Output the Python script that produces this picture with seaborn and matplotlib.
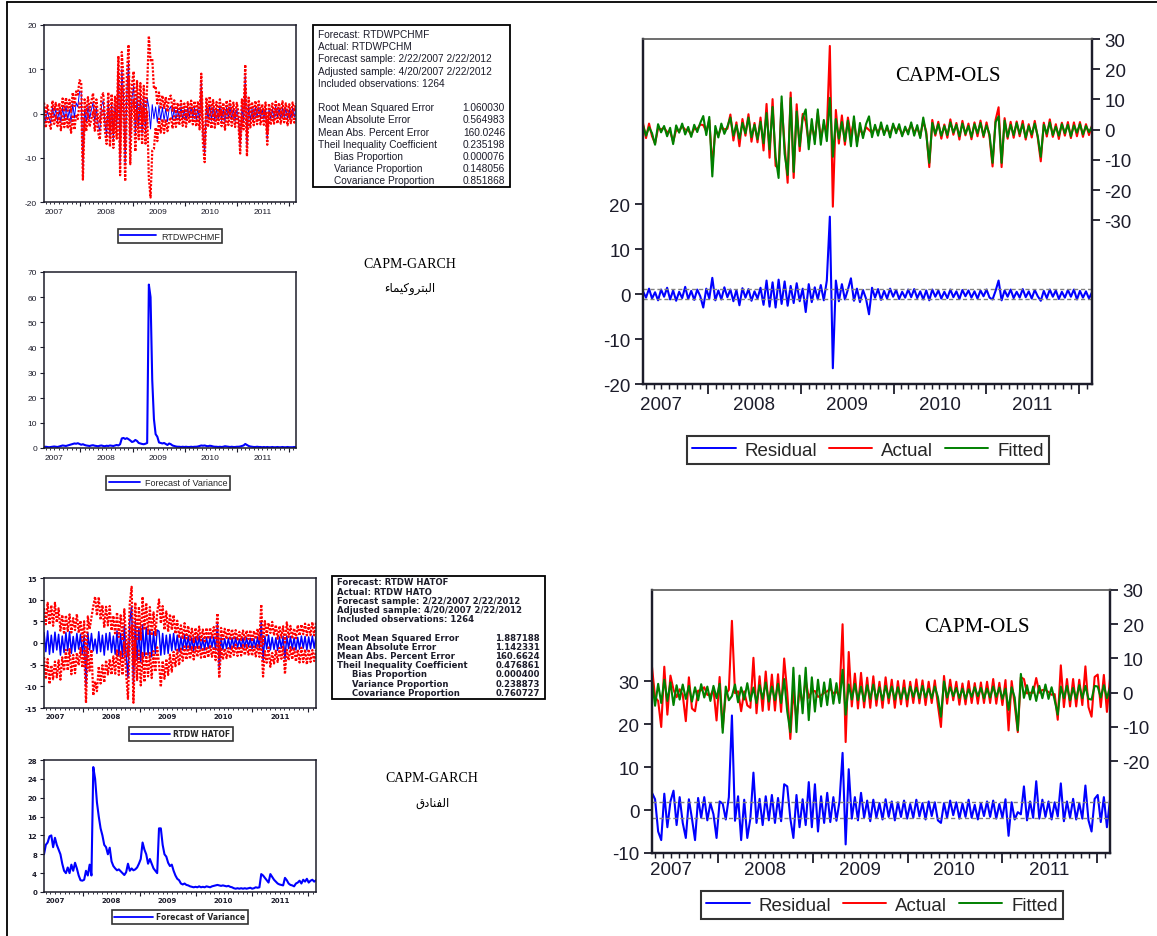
import numpy as np
import pandas as pd
import matplotlib
matplotlib.use("Agg")
import matplotlib.pyplot as plt
import matplotlib.dates as mdates
from matplotlib.lines import Line2D
from matplotlib.patches import Rectangle
import seaborn as sns

sns.set_theme(style="ticks")
plt.rcParams["font.family"] = ["Liberation Sans", "DejaVu Sans"]

# ---------------------------------------------------------------- data
dates = pd.date_range("2007-04-20", "2012-02-22", periods=150)
years = [2007, 2008, 2009, 2010, 2011]

# Petrochemicals: GARCH forecast and forecast of variance
petro_fcst = np.array([
    1.2, -1.8, 0.6, -1.0, -2.2, 1.5, -0.8, 1.0, -1.6, 0.8,
    -2.0, 1.4, -1.2, 1.8, -1.4, 0.9, -2.0, 2.2, -1.0, 2.4,
    1.5, 5.0, 4.8, -12.5, 1.0, -2.0, 1.8, -1.2, 0.8, 2.5,
    -2.0, 1.4, -2.6, -4.0, 1.8, 2.8, -2.2, -5.0, 3.0, -5.5,
    2.5, -6.0, 2.0, -3.5, 11.0, -11.5, 10.0, 4.0, -11.5, 5.0,
    11.8, -8.0, 3.5, 6.3, -5.0, 4.0, -3.0, 4.2, -4.5, 3.8,
    -4.2, 3.5, 1.4, -3.5, 2.0, -1.2, 1.5, -2.0, 1.8, -1.5,
    1.4, -1.6, 1.2, -1.8, 1.0, 1.6, -1.4, 1.2, -1.5, 1.0,
    -1.2, 1.6, -1.4, 1.0, -1.6, 1.3, -0.9, 1.5, -1.2, 1.4,
    -1.5, 1.2, -1.8, 7.0, -5.0, -9.0, 1.8, -1.4, 2.0, -1.6,
    1.5, -1.8, 1.2, -1.4, 1.8, -1.6, 1.0, -2.0, 1.4, -1.2,
    1.6, -1.4, 1.2, -1.8, 1.0, -1.2, -7.5, 1.4, -1.6, 8.5,
    -7.5, 1.8, -1.6, 1.2, -1.4, 1.6, -1.0, 1.5, -1.2, 1.0,
    -1.3, 1.4, -5.8, 1.2, -1.5, 1.0, -1.2, 1.6, -1.0, 1.3,
    -1.2, 1.5, -0.9, 1.2, -1.4, 1.0, -1.1, 1.4, -0.8, 1.2,
])
petro_var = np.array([
    0.4, 0.5, 0.4, 0.3, 0.4, 0.5, 0.6, 0.5, 0.4, 0.6,
    0.8, 1.0, 0.9, 0.8, 1.0, 1.2, 1.4, 1.6, 1.8, 1.7,
    1.9, 1.6, 1.3, 1.5, 1.2, 1.0, 0.9, 0.8, 1.0, 1.1,
    0.9, 0.8, 0.7, 0.9, 1.0, 0.8, 0.7, 0.9, 0.8, 1.0,
    0.9, 0.8, 1.0, 1.2, 1.0, 1.5, 3.8, 4.0, 3.6, 3.9,
    3.5, 3.0, 2.4, 2.6, 3.2, 2.8, 2.0, 1.8, 1.6, 1.5,
    1.7, 2.0, 65.0, 60.0, 27.0, 11.5, 5.5, 4.5, 2.2, 2.0,
    1.8, 2.0, 1.6, 1.2, 1.8, 1.5, 1.0, 0.8, 0.6, 0.5,
    0.5, 0.4, 0.5, 0.4, 0.5, 0.4, 0.4, 0.5, 0.4, 0.5,
    0.5, 0.6, 0.8, 1.0, 0.9, 1.0, 0.8, 0.7, 0.9, 0.8,
    0.6, 0.5, 0.5, 0.4, 0.5, 0.4, 0.5, 0.7, 0.6, 0.5,
    0.4, 0.5, 0.4, 0.4, 0.5, 0.5, 0.6, 0.8, 1.0, 1.6,
    1.2, 0.8, 0.6, 0.5, 0.4, 0.4, 0.5, 0.4, 0.4, 0.3,
    0.4, 0.3, 0.4, 0.3, 0.3, 0.4, 0.3, 0.3, 0.4, 0.3,
    0.3, 0.4, 0.3, 0.3, 0.4, 0.3, 0.3, 0.3, 0.4, 0.3,
])

# Petrochemicals: OLS fitted values and residuals
petro_fitted = np.array([
    1.5, -2.0, 0.8, -1.2, -5.0, 1.8, -0.9, 1.2, -2.2, 0.6,
    -4.8, 1.4, -1.0, 2.0, -1.6, 0.9, -2.4, 1.6, -0.8, 2.2,
    4.5, -1.8, 4.2, -15.5, 1.2, -2.6, 2.0, -1.4, 1.0, 4.0,
    -2.0, 1.5, -3.0, 2.2, -1.2, 4.0, -2.5, 1.6, -3.2, 2.6,
    -4.5, 5.5, -6.5, 7.5, -9.0, -16.0, 11.0, -8.0, -15.0, 10.5,
    -14.0, 6.0, -5.5, 4.0, 6.7, -6.5, 3.5, -4.8, 6.7, -5.0,
    3.2, -3.8, 10.5, -9.0, 3.5, -3.0, 2.5, -3.8, 3.0, -5.5,
    4.4, -5.5, 2.2, -2.8, 1.8, 4.4, -2.5, 1.6, -2.0, 2.4,
    -1.8, 1.4, -2.6, 2.0, -1.2, 1.8, -2.2, 1.0, -1.6, 2.4,
    -2.0, 1.5, -2.8, 4.0, -1.5, -11.0, 2.2, -1.4, 1.8, -2.0,
    1.2, -1.8, 2.4, -1.0, 1.6, -2.2, 2.0, -1.4, 1.2, -2.4,
    1.8, -1.2, 2.2, -2.0, 1.4, -1.6, -11.0, 2.5, 4.4, -11.0,
    3.0, -2.4, 1.6, -1.8, 2.2, -1.4, 1.8, -2.6, 1.2, -1.6,
    2.0, -2.2, -9.0, 1.6, -1.4, 2.4, -1.8, 1.0, -2.0, 1.8,
    -1.2, 1.6, -2.2, 1.4, -1.0, 1.8, -1.6, 1.2, -0.8, 1.0,
])
petro_resid = np.array([
    0.6, -0.8, 1.2, -1.0, 0.4, -1.4, 1.0, -0.6, 1.4, -1.2,
    0.8, -1.5, 0.5, -0.9, 1.6, -1.1, 0.7, -1.3, 1.0, -0.5,
    -3.0, 1.2, -1.0, 3.6, -1.4, 0.8, -1.2, 1.5, -0.7, 1.0,
    -1.6, 0.9, -2.5, 1.3, -0.8, 1.1, -1.5, 0.6, -1.0, 1.4,
    -2.4, 3.0, -2.8, 2.6, -3.0, 3.2, -2.2, 2.8, -2.6, 1.8,
    -2.0, 2.4, -1.6, 1.2, -4.0, 2.2, -1.8, 1.5, -1.2, 2.0,
    -1.4, 3.0, 17.2, -16.5, 3.0, -1.6, 2.2, -1.2, 1.0, 3.5,
    -1.5, 1.2, -1.8, 0.9, -1.0, -4.5, 1.4, -0.8, 1.1, -1.3,
    0.7, -1.0, 1.2, -0.6, 0.9, -1.1, 0.5, -0.8, 1.0, -0.7,
    1.1, -0.9, 0.6, -1.2, 0.8, -1.4, 1.0, -0.6, 0.8, -1.0,
    0.5, -0.9, 1.0, -0.7, 0.6, -1.1, 0.9, -0.5, 0.8, -0.8,
    0.6, -1.0, 0.8, -0.5, 1.0, -0.8, -1.2, 0.7, 3.0, -1.4,
    0.8, -0.6, 1.0, -0.9, 0.5, -0.8, 1.1, -0.7, 0.6, -1.0,
    0.9, -0.5, -1.5, 0.7, -0.9, 1.0, -0.6, 0.8, -1.1, 0.5,
    -0.8, 0.9, -0.6, 1.0, -1.2, 0.7, -0.8, 0.6, -1.0, 0.4,
])

# Hotels: GARCH forecast and forecast of variance
hotel_fcst = np.array([
    2.4, -2.0, 2.8, -2.6, 1.8, -2.2, 2.5, -1.6, 2.0, -2.8,
    1.6, -2.2, 2.4, -1.8, 2.6, -2.4, 1.5, -2.0, 2.2, -1.4,
    2.0, -2.6, 1.8, -9.6, 2.4, -1.6, 2.2, -1.8, 0.9, -2.4,
    2.6, -2.0, 1.8, -2.8, 2.2, -1.6, 2.4, -2.2, 1.6, -2.6,
    2.8, -3.0, 2.2, -3.4, 4.0, -3.0, -8.0, 5.0, 8.5, -9.5,
    5.0, -4.0, 3.5, -4.5, 4.2, -3.0, 3.6, -2.8, 3.0, -3.2,
    2.6, -2.4, 3.0, 2.7, -2.8, 2.2, -2.6, 1.8, -2.4, 2.0,
    -1.8, 2.2, -1.6, 1.8, -2.0, 1.4, -1.6, 1.9, -1.4, 1.6,
    -1.5, 1.2, -1.8, 1.4, -1.2, 1.6, -1.4, 1.0, -1.6, 1.3,
    -1.2, 1.5, -1.0, 1.4, -1.6, 4.4, -5.7, 1.2, -1.5, 1.0,
    -1.3, 1.1, -1.4, 1.2, -1.0, 1.3, -1.2, 0.9, -1.1, 1.2,
    -1.0, 1.2, -0.9, 1.1, -1.3, 1.0, -1.1, 1.4, -1.2, 5.0,
    -4.0, 1.6, -1.4, 1.8, -1.6, 1.3, -1.5, 1.2, -1.7, 1.4,
    -1.2, 1.5, -3.7, 1.6, -1.3, 1.5, -1.4, 1.2, -1.6, 1.3,
    -1.4, 1.6, -1.2, 1.5, -1.6, 1.4, -1.3, 1.6, -1.2, 1.5,
])
hotel_var = np.array([
    8.0, 10.0, 10.5, 11.8, 12.0, 9.5, 11.5, 10.0, 9.0, 8.0,
    6.0, 4.5, 4.0, 5.2, 4.0, 5.8, 4.5, 6.2, 5.0, 3.5,
    2.5, 2.4, 2.6, 4.5, 3.5, 5.8, 3.5, 26.5, 24.0, 19.0,
    16.0, 13.5, 12.0, 10.0, 9.5, 8.0, 9.4, 6.5, 5.5, 5.0,
    4.6, 4.8, 4.4, 4.0, 3.6, 4.2, 6.0, 4.5, 5.0, 4.6,
    4.8, 5.2, 6.0, 7.0, 10.5, 9.0, 8.0, 6.0, 7.0, 6.0,
    5.0, 4.5, 4.0, 13.5, 13.5, 10.0, 8.0, 7.5, 6.2, 5.5,
    5.8, 4.5, 3.5, 2.8, 2.5, 1.8, 1.6, 1.8, 1.5, 1.4,
    1.2, 1.1, 1.0, 1.1, 1.0, 1.2, 1.0, 1.1, 1.0, 1.2,
    1.1, 1.0, 1.2, 1.3, 1.4, 1.5, 1.4, 1.3, 1.4, 1.3,
    1.2, 1.3, 1.1, 1.0, 0.8, 0.7, 0.8, 0.7, 0.8, 0.7,
    0.8, 0.7, 0.8, 0.9, 0.7, 0.8, 1.0, 0.9, 1.0, 3.8,
    3.5, 3.0, 2.5, 2.0, 3.8, 3.2, 2.6, 2.2, 1.8, 1.6,
    1.5, 1.4, 3.0, 2.5, 1.8, 1.5, 1.4, 1.2, 1.8, 2.0,
    2.4, 1.8, 2.6, 2.2, 2.8, 2.0, 2.4, 2.6, 2.2, 2.5,
])

# Hotels: OLS fitted values and residuals
hotel_fitted = np.array([
    3.5, -3.8, 2.6, -3.0, 3.8, -2.4, 3.0, -3.6, 2.2, -2.0,
    2.4, -1.8, 2.0, -2.6, 1.6, -2.2, 2.5, -1.4, 1.8, -2.4,
    2.0, -1.6, 2.6, -11.7, 1.8, -2.2, -1.0, 2.4, -2.8, 1.6,
    -2.0, 2.8, -2.4, 1.5, -3.0, 2.2, -1.8, 3.0, -2.6, 1.8,
    -2.2, 2.6, -3.0, 4.0, -5.5, -11.5, 7.3, -11.5, 5.0, -6.0,
    7.3, -8.0, 4.5, -5.5, 3.8, -4.0, 3.0, -3.6, 4.0, -3.2,
    2.8, -3.0, 6.7, -6.4, 2.4, -2.0, 2.6, -2.2, 1.8, -2.5,
    2.2, -1.8, 2.4, -2.0, 1.6, -2.2, 2.0, -1.5, 1.8, -2.0,
    1.6, -1.8, 1.4, -2.0, 1.8, -1.2, 1.5, -1.6, 2.0, -1.4,
    1.2, -1.6, 1.8, -1.2, -7.0, 3.3, -1.4, 1.6, -1.0, 1.4,
    -1.5, 1.2, -1.8, 1.0, -1.2, 1.6, -1.0, 1.4, -1.6, 1.2,
    -1.4, 1.8, -1.2, 1.5, -1.8, 1.2, -5.0, 1.6, -1.4, -11.0,
    5.5, -1.5, 2.2, -2.0, 1.8, -2.4, 2.0, -1.6, 2.4, -1.8,
    1.6, -2.2, -6.4, 1.8, -1.6, 2.0, -2.2, 1.4, -1.8, 2.2,
    -1.6, 2.0, -1.8, -2.0, 2.0, 1.8, -1.4, 2.2, -1.6, 1.6,
])
hotel_resid = np.array([
    4.0, 2.5, -5.0, -7.0, 3.8, -4.0, 2.0, 4.5, -3.5, 3.0,
    -3.0, -6.5, 2.5, -2.0, -7.0, 2.8, -1.8, 3.0, -2.4, 1.6,
    -1.0, -6.5, 2.0, 1.5, -2.2, 3.0, 22.0, -2.5, 3.2, -7.0,
    2.4, -6.5, -2.0, 8.7, -3.0, 2.6, -3.5, 3.2, -2.4, 3.5,
    -3.0, 2.8, -2.6, 6.0, 5.5, -2.0, -6.5, 3.5, -4.0, 2.5,
    -3.5, 6.5, -4.0, 6.0, -5.0, 3.2, -3.0, 4.0, -2.8, 3.0,
    -2.5, 2.0, 13.3, -8.0, 9.5, -2.0, 3.0, -2.4, 4.0, -1.8,
    2.2, -2.6, 2.4, -1.8, 1.6, -2.2, 2.5, -1.6, 2.0, -2.4,
    1.8, -1.6, 2.2, -2.0, 1.4, -1.8, 2.4, -1.5, 1.6, -2.2,
    2.0, -1.4, 1.8, -2.4, -3.0, 1.6, -1.8, 2.2, -1.2, 1.8,
    -2.0, 1.5, -1.6, 2.4, -1.8, 1.2, -2.2, 1.6, -1.4, 2.0,
    -1.6, 2.2, -2.0, 1.4, -1.8, 2.5, -6.0, 1.8, -2.2, -0.5,
    -1.0, 5.5, -2.4, 2.0, -1.8, 6.7, -2.0, 2.4, -1.6, 2.0,
    -2.2, 1.8, -1.5, 6.2, -2.6, 2.0, -1.8, 2.6, -2.2, 1.6,
    -2.0, 5.7, -2.4, -5.0, 2.6, 3.5, -2.8, 3.0, -4.0, 2.4,
])

# Forecast evaluation tables
petro_table = [
    ("Forecast: RTDWPCHMF", None, False),
    ("Actual: RTDWPCHM", None, False),
    ("Forecast sample: 2/22/2007 2/22/2012", None, False),
    ("Adjusted sample: 4/20/2007 2/22/2012", None, False),
    ("Included observations: 1264", None, False),
    ("", None, False),
    ("Root Mean Squared Error", "1.060030", False),
    ("Mean Absolute Error", "0.564983", False),
    ("Mean Abs. Percent Error", "160.0246", False),
    ("Theil Inequality Coefficient", "0.235198", False),
    ("Bias Proportion", "0.000076", True),
    ("Variance Proportion", "0.148056", True),
    ("Covariance Proportion", "0.851868", True),
]
hotel_table = [
    ("Forecast: RTDW HATOF", None, False),
    ("Actual: RTDW HATO", None, False),
    ("Forecast sample: 2/22/2007 2/22/2012", None, False),
    ("Adjusted sample: 4/20/2007 2/22/2012", None, False),
    ("Included observations: 1264", None, False),
    ("", None, False),
    ("Root Mean Squared Error", "1.887188", False),
    ("Mean Absolute Error", "1.142331", False),
    ("Mean Abs. Percent Error", "160.6624", False),
    ("Theil Inequality Coefficient", "0.476861", False),
    ("Bias Proportion", "0.000400", True),
    ("Variance Proportion", "0.238873", True),
    ("Covariance Proportion", "0.760727", True),
]
petro_se = 1.060030
hotel_se = 1.887188

# ---------------------------------------------------------------- helpers
W, H = 1157, 937
fig = plt.figure(figsize=(W / 100, H / 100), dpi=100)
fig.patch.set_facecolor("white")

BLUE, RED, GREEN = "#0000FF", "#FF0000", "#008000"
INK = "#1c1c2a"


def box(x0, y0, x1, y1):
    return [x0 / W, 1 - y1 / H, (x1 - x0) / W, (y1 - y0) / H]


def fxy(x, y):
    return x / W, 1 - y / H


# Arabic presentation forms: isolated, final, initial, medial
FORMS = {
    "ا": ("\uFE8D", "\uFE8E", None, None),
    "ء": ("\uFE80", None, None, None),
    "ب": ("\uFE8F", "\uFE90", "\uFE91", "\uFE92"),
    "ت": ("\uFE95", "\uFE96", "\uFE97", "\uFE98"),
    "ر": ("\uFEAD", "\uFEAE", None, None),
    "و": ("\uFEED", "\uFEEE", None, None),
    "ك": ("\uFED9", "\uFEDA", "\uFEDB", "\uFEDC"),
    "ي": ("\uFEF1", "\uFEF2", "\uFEF3", "\uFEF4"),
    "م": ("\uFEE1", "\uFEE2", "\uFEE3", "\uFEE4"),
    "ل": ("\uFEDD", "\uFEDE", "\uFEDF", "\uFEE0"),
    "ف": ("\uFED1", "\uFED2", "\uFED3", "\uFED4"),
    "ن": ("\uFEE5", "\uFEE6", "\uFEE7", "\uFEE8"),
    "د": ("\uFEA9", "\uFEAA", None, None),
    "ق": ("\uFED5", "\uFED6", "\uFED7", "\uFED8"),
}


def shape_arabic(word):
    out = []
    n = len(word)
    for k, ch in enumerate(word):
        iso, fin, ini, med = FORMS[ch]
        prev_joins = k > 0 and FORMS[word[k - 1]][2] is not None
        next_joins = k < n - 1 and ini is not None and FORMS[word[k + 1]][1] is not None
        if prev_joins and next_joins:
            out.append(med)
        elif prev_joins:
            out.append(fin)
        elif next_joins:
            out.append(ini)
        else:
            out.append(iso)
    return "".join(reversed(out))


def time_axis(ax, off, major_len, minor_len, width, font):
    ax.set_xlim(dates[0], dates[-1])
    ax.xaxis.set_major_locator(mdates.YearLocator())
    ax.xaxis.set_minor_locator(mdates.MonthLocator())
    ax.xaxis.set_major_formatter(plt.NullFormatter())
    ax.xaxis.set_minor_formatter(plt.NullFormatter())
    ax.tick_params(axis="x", which="major", length=major_len, width=width,
                   direction="out", color=INK)
    ax.tick_params(axis="x", which="minor", length=minor_len, width=width * 0.8,
                   direction="out", color=INK)
    for yr in years:
        xm = mdates.date2num(pd.Timestamp(f"{yr}-07-01"))
        ax.annotate(str(yr), xy=(xm, 0), xycoords=("data", "axes fraction"),
                    xytext=(0, -off), textcoords="offset pixels",
                    ha="center", va="center", color=INK, **font)
    ax.set_xlabel("")


def style_frame(ax, lw):
    for s in ax.spines.values():
        s.set_visible(True)
        s.set_linewidth(lw)
        s.set_color(INK)
    ax.set_ylabel("")


def legend_at(handles, labels, cx, cy, prop, handlelength=2.5, colsp=1.0, lw=1.2):
    leg = fig.legend(handles, labels, loc="center", bbox_to_anchor=fxy(cx, cy),
                     ncol=len(labels), frameon=True, fancybox=False, shadow=False,
                     prop=prop, handlelength=handlelength, borderpad=0.3,
                     handletextpad=0.5, columnspacing=colsp, borderaxespad=0)
    leg.get_frame().set_edgecolor("black")
    leg.get_frame().set_linewidth(lw)
    leg.get_frame().set_facecolor("white")
    return leg


def table_at(rows, x0, y0, x1, y1, left, indent, right, top, step, font):
    fig.add_artist(Rectangle(fxy(x0, y1), (x1 - x0) / W, (y1 - y0) / H,
                             transform=fig.transFigure, fill=False,
                             edgecolor="black", linewidth=1.3))
    for k, (label, value, ind) in enumerate(rows):
        y = top + step * k
        if label:
            fig.text(*fxy(indent if ind else left, y), label, ha="left",
                     va="center", color=INK, **font)
        if value:
            fig.text(*fxy(right, y), value, ha="right", va="center",
                     color=INK, **font)


def garch_panel(ax, fcst, var, ylim, yticks, font, off, ticklen, blue_lw):
    band = 2 * np.sqrt(var)
    sns.lineplot(x=dates, y=fcst, ax=ax, color=BLUE, linewidth=blue_lw, errorbar=None)
    for sign in (1, -1):
        sns.lineplot(x=dates, y=fcst + sign * band, ax=ax, color=RED, linewidth=1.6,
                     linestyle=(0, (1, 0.7)), errorbar=None)
    ax.set_ylim(*ylim)
    ax.set_yticks(yticks)
    ax.set_yticklabels([str(t) for t in yticks], color=INK, **font)
    ax.tick_params(axis="y", length=ticklen, width=0.8, direction="out", color=INK, pad=2)
    style_frame(ax, 1.1)
    time_axis(ax, off, ticklen, ticklen * 0.5, 0.8, font)


def variance_panel(ax, var, ylim, yticks, font, off, ticklen):
    sns.lineplot(x=dates, y=var, ax=ax, color=BLUE, linewidth=1.5, errorbar=None)
    ax.set_ylim(*ylim)
    ax.set_yticks(yticks)
    ax.set_yticklabels([str(t) for t in yticks], color=INK, **font)
    ax.tick_params(axis="y", length=ticklen, width=0.8, direction="out", color=INK, pad=2)
    style_frame(ax, 1.1)
    time_axis(ax, off, ticklen, ticklen * 0.5, 0.8, font)


def ols_panel(rect, fitted, resid, se, left_lim, left_ticks, right_lim, right_ticks, off):
    ax = fig.add_axes(box(*rect))
    ax2 = ax.twinx()
    actual = fitted + resid
    sns.lineplot(x=dates, y=resid, ax=ax, color=BLUE, linewidth=1.5, errorbar=None)
    for lev in (se, -se):
        ax.axhline(lev, color="#808080", linestyle=(0, (3, 2)), linewidth=1.0)
    sns.lineplot(x=dates, y=actual, ax=ax2, color=RED, linewidth=1.5, errorbar=None)
    sns.lineplot(x=dates, y=fitted, ax=ax2, color=GREEN, linewidth=1.5, errorbar=None)
    ax.set_ylim(*left_lim)
    ax.set_yticks(left_ticks)
    ax2.set_ylim(*right_lim)
    ax2.set_yticks(right_ticks)
    big = dict(fontsize=13.5, family=["Liberation Sans", "DejaVu Sans"])
    ax.set_yticklabels([str(t) for t in left_ticks], color=INK, **big)
    ax2.set_yticklabels([str(t) for t in right_ticks], color=INK, **big)
    ax.tick_params(axis="y", length=6, width=1.3, direction="out", color=INK, pad=3)
    ax2.tick_params(axis="y", length=6, width=1.3, direction="out", color=INK, pad=3)
    style_frame(ax, 1.6)
    style_frame(ax2, 1.6)
    ax2.spines["top"].set_color("#555555")
    ax2.spines["top"].set_linewidth(1.2)
    ax.spines["top"].set_visible(False)
    time_axis(ax, off, 7, 3.5, 1.3, big)
    return ax, ax2


# ---------------------------------------------------------------- petrochemicals
small = dict(fontsize=6, family=["Liberation Sans", "DejaVu Sans"])
axA = fig.add_axes(box(44, 26, 296, 203))
garch_panel(axA, petro_fcst, petro_var, (-20, 20), [-20, -10, 0, 10, 20], small, 10, 3, 0.7)
axB = fig.add_axes(box(44, 273, 296, 449))
variance_panel(axB, petro_var, (0, 70), list(range(0, 71, 10)), small, 10, 3)

small_prop = dict(size=6.5, family=["Liberation Sans", "DejaVu Sans"])
legend_at([Line2D([], [], color=BLUE, linewidth=1.3)], ["RTDWPCHMF"], 170, 237, small_prop,
          handlelength=4.0)
legend_at([Line2D([], [], color=BLUE, linewidth=1.3)], ["Forecast of Variance"], 168, 484,
          small_prop, handlelength=3.5)

table_at(petro_table, 313, 26, 510, 188, 318, 334, 505, 35, 12.2,
         dict(fontsize=7.3, family=["Liberation Sans", "DejaVu Sans"]))

serif = ["Liberation Serif", "DejaVu Serif"]
fig.text(*fxy(410, 264), "CAPM-GARCH", ha="center", va="center", fontsize=10,
         family=serif, color="black")
fig.text(*fxy(410, 289), shape_arabic("البتروكيماء"), ha="center", va="center",
         fontsize=8.5, family=["DejaVu Sans"], color="black")

axC, axC2 = ols_panel((643, 40, 1092, 385), petro_fitted, petro_resid, petro_se,
                      (-20, 56.7), [-20, -10, 0, 10, 20],
                      (-84.2, 30), [-30, -20, -10, 0, 10, 20, 30], 21)
axC2.text(0.68, 0.895, "CAPM-OLS", transform=axC2.transAxes, ha="center", va="center",
          fontsize=15, family=serif, color="black")

big_prop = dict(size=13.5, family=["Liberation Sans", "DejaVu Sans"])
ols_handles = [Line2D([], [], color=c, linewidth=1.4) for c in (BLUE, RED, GREEN)]
legend_at(ols_handles, ["Residual", "Actual", "Fitted"], 868, 451, big_prop,
          handlelength=2.3, colsp=0.6, lw=1.5)

# ---------------------------------------------------------------- hotels
tiny = dict(fontsize=5, family=["DejaVu Sans"], weight="bold")
axD = fig.add_axes(box(44, 579, 316, 709))
garch_panel(axD, hotel_fcst, hotel_var, (-15, 15), [-15, -10, -5, 0, 5, 10, 15], tiny, 8, 3, 1.1)
axE = fig.add_axes(box(44, 761, 316, 893))
variance_panel(axE, hotel_var, (0, 28), list(range(0, 29, 4)), tiny, 8, 3)

tiny_prop = dict(size=5.5, family=["DejaVu Sans"], weight="bold")
legend_at([Line2D([], [], color=BLUE, linewidth=1.3)], ["RTDW HATOF"], 181, 735, tiny_prop,
          handlelength=5.0)
legend_at([Line2D([], [], color=BLUE, linewidth=1.3)], ["Forecast of Variance"], 180, 918,
          tiny_prop, handlelength=5.0)

table_at(hotel_table, 332, 577, 545, 700, 337, 352, 540, 583, 9.2,
         dict(fontsize=6.1, family=["DejaVu Sans"], weight="bold"))

fig.text(*fxy(432, 778), "CAPM-GARCH", ha="center", va="center", fontsize=10,
         family=serif, color="black")
fig.text(*fxy(432, 803), shape_arabic("الفنادق"), ha="center", va="center",
         fontsize=8.5, family=["DejaVu Sans"], color="black")

axF, axF2 = ols_panel((652, 591, 1110, 854), hotel_fitted, hotel_resid, hotel_se,
                      (-10, 51.2), [-10, 0, 10, 20, 30],
                      (-46.8, 30), [-20, -10, 0, 10, 20, 30], 17)
axF2.text(0.71, 0.86, "CAPM-OLS", transform=axF2.transAxes, ha="center", va="center",
          fontsize=15, family=serif, color="black")
legend_at(ols_handles, ["Residual", "Actual", "Fitted"], 882, 906, big_prop,
          handlelength=2.3, colsp=0.6, lw=1.5)

# page border
fig.add_artist(Line2D([7 / W, 7 / W], [0, 1 - 3 / H], transform=fig.transFigure,
                      color="black", linewidth=1.3))
fig.add_artist(Line2D([7 / W, 1], [1 - 3 / H, 1 - 3 / H], transform=fig.transFigure,
                      color="black", linewidth=1.3))

fig.savefig("out.png", dpi=100, facecolor="white")
